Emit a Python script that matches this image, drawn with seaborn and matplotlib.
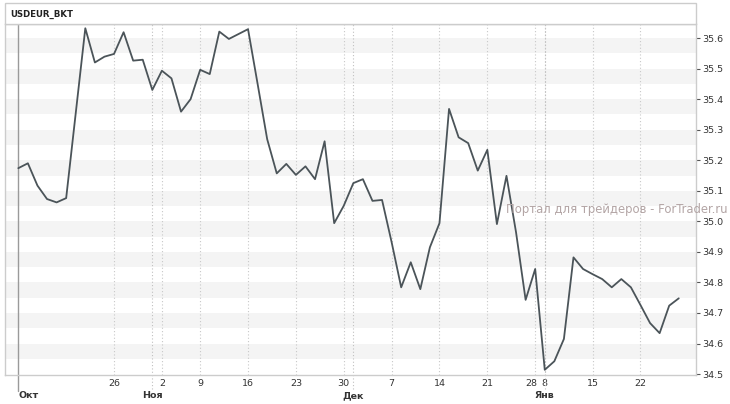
import matplotlib
matplotlib.use("Agg")
import matplotlib.pyplot as plt
import matplotlib.transforms as mtransforms
from matplotlib.patches import Rectangle
import seaborn as sns
import pandas as pd

# ---- data (trading-day index, value) ----
day_index = [0, 1, 2, 3, 4, 5, 7, 8, 9, 10, 11, 12, 13, 14, 15, 16, 17, 18, 19, 20,
             21, 22, 23, 24, 25, 26, 27, 28, 29, 30, 31, 32, 33, 34, 35, 36, 37, 38, 39, 40,
             41, 42, 43, 44, 45, 46, 47, 48, 49, 50, 51, 52, 53, 54, 55, 56, 57, 58, 59, 60,
             61, 62, 63, 64, 65, 66, 67, 68, 69]
rate = [35.174, 35.190, 35.117, 35.073, 35.062, 35.076, 35.632, 35.520, 35.539, 35.548,
        35.619, 35.526, 35.529, 35.430, 35.493, 35.468, 35.359, 35.400, 35.496, 35.482,
        35.621, 35.597, 35.613, 35.629, 35.450, 35.269, 35.157, 35.188, 35.152, 35.180,
        35.138, 35.262, 34.994, 35.051, 35.125, 35.138, 35.067, 35.070, 34.932, 34.784,
        34.866, 34.778, 34.915, 34.994, 35.368, 35.275, 35.256, 35.166, 35.234, 34.991,
        35.149, 34.964, 34.743, 34.844, 34.514, 34.542, 34.615, 34.882, 34.844, 34.827,
        34.811, 34.784, 34.811, 34.784, 34.726, 34.667, 34.634, 34.724, 34.748]

week_pos = [10, 15, 19, 24, 29, 34, 39, 44, 49, 54, 55, 60, 65]
week_labels = ["26", "2", "9", "16", "23", "30", "7", "14", "21", "28", "8", "15", "22"]
month_pos = [0, 14, 35, 55]
month_labels = ["Окт", "Ноя", "Дек", "Янв"]
y_ticks = [34.5, 34.6, 34.7, 34.8, 34.9, 35.0, 35.1, 35.2, 35.3, 35.4, 35.5, 35.6]
title = "USDEUR_BKT"
watermark = "Портал для трейдеров - ForTrader.ru"

df = pd.DataFrame({"day": day_index, "rate": rate})

sns.set_style("white")
plt.rcParams["font.family"] = ["DejaVu Sans"]

W, H = 730, 404
fig = plt.figure(figsize=(W / 100, H / 100), dpi=100)
fig.patch.set_facecolor("white")

ax_l, ax_r, ax_t, ax_b = 5, 696, 24, 375
ax = fig.add_axes([ax_l / W, (H - ax_b) / H, (ax_r - ax_l) / W, (ax_b - ax_t) / H])

# alternating bands
for v in y_ticks:
    if v > 34.55:
        ax.axhspan(v - 0.05, v, color="#f4f4f4", lw=0, zorder=0)

# weekly dotted grid
for p in week_pos:
    ax.axvline(p, color="#c8c8c8", lw=0.8, ls=(0, (1, 2)), zorder=1)

# month lines extending below the axis
xtr = ax.get_xaxis_transform()
for p in month_pos:
    if p == 0:
        ax.plot([p, p], [-0.045, 1], transform=xtr, color="#9a9a9a", lw=1.0,
                clip_on=False, zorder=1)
    else:
        ax.plot([p, p], [-0.04, 1], transform=xtr, color="#c0c0c0", lw=0.8,
                ls=(0, (1, 2)), clip_on=False, zorder=1)

sns.lineplot(data=df, x="day", y="rate", ax=ax, color="#4b5459", lw=1.3, zorder=3)

ax.set_xlim(-1.39, 70.8)
ax.set_ylim(34.497, 34.497 + (ax_b - ax_t) / 305.5)
ax.set_xlabel("")
ax.set_ylabel("")

# y axis on right
ax.yaxis.tick_right()
ax.set_yticks(y_ticks)
ax.set_yticklabels([f"{v:.1f}" for v in y_ticks])
ax.tick_params(axis="y", right=True, length=3, width=0.8, color="#555555",
               labelsize=6.8, labelcolor="#333333", pad=1.5)

# x ticks: weeks
ax.set_xticks(week_pos)
ax.set_xticklabels(week_labels)
ax.tick_params(axis="x", which="major", length=0, labelsize=6.8,
               labelcolor="#333333", pad=3)
for lab in ax.get_xticklabels():
    if lab.get_text() == "28":
        lab.set_transform(lab.get_transform() +
                          mtransforms.ScaledTranslation(-4 / 100, 0, fig.dpi_scale_trans))

# month labels
for p, m in zip(month_pos, month_labels):
    ax.text(p, -0.058, m, transform=xtr, fontsize=6.8, fontweight="bold",
            color="#333333", va="center", ha="left" if p == 0 else "center")

for s in ax.spines.values():
    s.set_color("#cccccc")
    s.set_linewidth(1.0)

# title box
fig.add_artist(Rectangle((ax_l / W, (H - ax_t) / H), (ax_r - ax_l) / W, (ax_t - 3) / H,
                         transform=fig.transFigure, facecolor="white",
                         edgecolor="#cccccc", lw=1.0))
fig.text(10 / W, 1 - 14 / H, title, fontsize=6.2, fontweight="bold",
         color="#222222", va="center", ha="left")

fig.text(506 / W, 1 - 210 / H, watermark, fontsize=8.4, color="#b3a5a5",
         va="center", ha="left", zorder=10)

fig.savefig("out.png", dpi=100)
